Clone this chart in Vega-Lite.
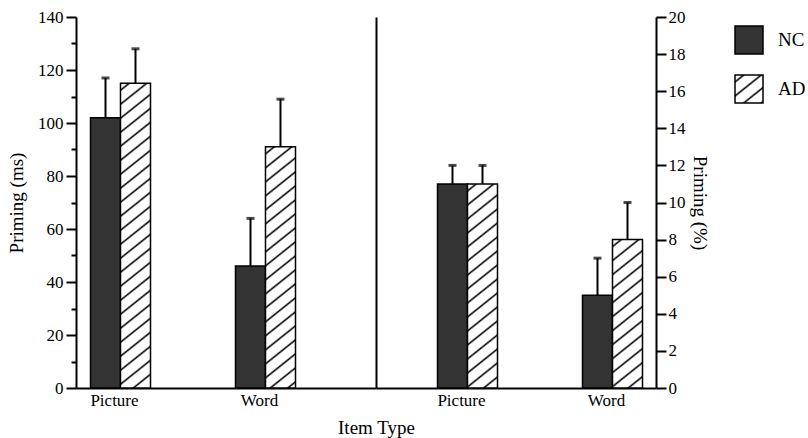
{
  "$schema": "https://vega.github.io/schema/vega-lite/v6.json",
  "padding": {"left": 7, "top": 8, "right": 2, "bottom": 4},
  "background": "white",
  "bounds": "flush",
  "spacing": 0,
  "params": [
    {"name": "hatch", "value": [
      {"offset": 0.0149, "color": "#fff"}, {"offset": 0.0208, "color": "#000"}, {"offset": 0.0268, "color": "#fff"},
      {"offset": 0.0565, "color": "#fff"}, {"offset": 0.0625, "color": "#000"}, {"offset": 0.0685, "color": "#fff"},
      {"offset": 0.0982, "color": "#fff"}, {"offset": 0.1042, "color": "#000"}, {"offset": 0.1101, "color": "#fff"},
      {"offset": 0.1399, "color": "#fff"}, {"offset": 0.1458, "color": "#000"}, {"offset": 0.1518, "color": "#fff"},
      {"offset": 0.1815, "color": "#fff"}, {"offset": 0.1875, "color": "#000"}, {"offset": 0.1935, "color": "#fff"},
      {"offset": 0.2232, "color": "#fff"}, {"offset": 0.2292, "color": "#000"}, {"offset": 0.2351, "color": "#fff"},
      {"offset": 0.2649, "color": "#fff"}, {"offset": 0.2708, "color": "#000"}, {"offset": 0.2768, "color": "#fff"},
      {"offset": 0.3065, "color": "#fff"}, {"offset": 0.3125, "color": "#000"}, {"offset": 0.3185, "color": "#fff"},
      {"offset": 0.3482, "color": "#fff"}, {"offset": 0.3542, "color": "#000"}, {"offset": 0.3601, "color": "#fff"},
      {"offset": 0.3899, "color": "#fff"}, {"offset": 0.3958, "color": "#000"}, {"offset": 0.4018, "color": "#fff"},
      {"offset": 0.4315, "color": "#fff"}, {"offset": 0.4375, "color": "#000"}, {"offset": 0.4435, "color": "#fff"},
      {"offset": 0.4732, "color": "#fff"}, {"offset": 0.4792, "color": "#000"}, {"offset": 0.4851, "color": "#fff"},
      {"offset": 0.5149, "color": "#fff"}, {"offset": 0.5208, "color": "#000"}, {"offset": 0.5268, "color": "#fff"},
      {"offset": 0.5565, "color": "#fff"}, {"offset": 0.5625, "color": "#000"}, {"offset": 0.5685, "color": "#fff"},
      {"offset": 0.5982, "color": "#fff"}, {"offset": 0.6042, "color": "#000"}, {"offset": 0.6101, "color": "#fff"},
      {"offset": 0.6399, "color": "#fff"}, {"offset": 0.6458, "color": "#000"}, {"offset": 0.6518, "color": "#fff"},
      {"offset": 0.6815, "color": "#fff"}, {"offset": 0.6875, "color": "#000"}, {"offset": 0.6935, "color": "#fff"},
      {"offset": 0.7232, "color": "#fff"}, {"offset": 0.7292, "color": "#000"}, {"offset": 0.7351, "color": "#fff"},
      {"offset": 0.7649, "color": "#fff"}, {"offset": 0.7708, "color": "#000"}, {"offset": 0.7768, "color": "#fff"},
      {"offset": 0.8065, "color": "#fff"}, {"offset": 0.8125, "color": "#000"}, {"offset": 0.8185, "color": "#fff"},
      {"offset": 0.8482, "color": "#fff"}, {"offset": 0.8542, "color": "#000"}, {"offset": 0.8601, "color": "#fff"},
      {"offset": 0.8899, "color": "#fff"}, {"offset": 0.8958, "color": "#000"}, {"offset": 0.9018, "color": "#fff"},
      {"offset": 0.9315, "color": "#fff"}, {"offset": 0.9375, "color": "#000"}, {"offset": 0.9435, "color": "#fff"},
      {"offset": 0.9732, "color": "#fff"}, {"offset": 0.9792, "color": "#000"}, {"offset": 0.9851, "color": "#fff"}
    ]}
  ],
  "data": {"values": [
    {"measure": "ms", "item": "Picture", "group": "NC", "mean": 102, "upper": 117},
    {"measure": "ms", "item": "Picture", "group": "AD", "mean": 115, "upper": 128},
    {"measure": "ms", "item": "Word", "group": "NC", "mean": 46, "upper": 64},
    {"measure": "ms", "item": "Word", "group": "AD", "mean": 91, "upper": 109},
    {"measure": "pct", "item": "Picture", "group": "NC", "mean": 11, "upper": 12},
    {"measure": "pct", "item": "Picture", "group": "AD", "mean": 11, "upper": 12},
    {"measure": "pct", "item": "Word", "group": "NC", "mean": 5, "upper": 7},
    {"measure": "pct", "item": "Word", "group": "AD", "mean": 8, "upper": 10}
  ]},
  "hconcat": [
    {
      "width": 300,
      "height": 371,
      "transform": [{"filter": "datum.measure === 'ms'"}],
      "encoding": {
        "x": {
          "field": "item", "type": "nominal", "sort": ["Picture", "Word"],
          "scale": {"paddingInner": 0.5862, "paddingOuter": 0.3276, "align": 0.1526},
          "axis": {"title": "Item Type", "titleX": 300, "titleAlign": "center", "titlePadding": 10, "labelAngle": 0, "ticks": false, "labelPadding": 4, "labelOffset": -6}
        },
        "xOffset": {"field": "group", "type": "nominal", "sort": ["NC", "AD"], "scale": {"paddingInner": 0, "paddingOuter": 0}}
      },
      "layer": [
        {
          "mark": {"type": "bar", "stroke": "black", "strokeWidth": 1.5},
          "encoding": {
            "y": {
              "field": "mean", "type": "quantitative",
              "scale": {"domain": [0, 140]},
              "axis": {
                "orient": "left", "title": "Priming (ms)",
                "values": [0, 10, 20, 30, 40, 50, 60, 70, 80, 90, 100, 110, 120, 130, 140],
                "labelExpr": "datum.value % 20 === 0 ? datum.label : ''",
                "labelOverlap": false,
                "tickSize": {"condition": {"test": "datum.value % 20 === 0", "value": 10}, "value": 5},
                "labelPadding": 3, "titlePadding": 11
              }
            },
            "fill": {
              "field": "group", "type": "nominal",
              "scale": {"domain": ["NC", "AD"], "range": ["#333333", {"expr": "{gradient: 'linear', x1: 0, y1: 0, x2: 5.8538, y2: 7.3172, stops: hatch}"}]},
              "legend": {"title": null},
              "condition": [
                {"test": "datum.group === 'AD' && datum.item === 'Picture'", "value": {"expr": "{gradient: 'linear', x1: 0, y1: 0, x2: 0.08629, y2: 1.09576, stops: hatch}"}},
                {"test": "datum.group === 'AD' && datum.item === 'Word'", "value": {"expr": "{gradient: 'linear', x1: 0, y1: 0, x2: 0.13731, y2: 1.37967, stops: hatch}"}}
              ]
            }
          }
        },
        {
          "mark": {"type": "rule", "color": "black", "strokeWidth": 2},
          "encoding": {
            "y": {"field": "mean", "type": "quantitative", "axis": {"orient": "right", "labels": false, "ticks": false, "title": null}},
            "y2": {"field": "upper"}
          }
        },
        {
          "mark": {"type": "tick", "color": "black", "thickness": 3, "size": 8},
          "encoding": {
            "y": {"field": "upper", "type": "quantitative", "axis": null}
          }
        }
      ],
      "resolve": {"axis": {"y": "independent"}}
    },
    {
      "width": 280,
      "height": 371,
      "transform": [{"filter": "datum.measure === 'pct'"}],
      "encoding": {
        "x": {
          "field": "item", "type": "nominal", "sort": ["Picture", "Word"],
          "scale": {"paddingInner": 0.5862, "paddingOuter": 0.2586, "align": 0.82},
          "axis": {"title": null, "labelAngle": 0, "ticks": false, "labelPadding": 4, "labelOffset": -6}
        },
        "xOffset": {"field": "group", "type": "nominal", "sort": ["NC", "AD"], "scale": {"paddingInner": 0, "paddingOuter": 0}}
      },
      "layer": [
        {
          "mark": {"type": "bar", "stroke": "black", "strokeWidth": 1.5},
          "encoding": {
            "y": {
              "field": "mean", "type": "quantitative",
              "scale": {"domain": [0, 20]},
              "axis": {
                "orient": "right", "title": "Priming (%)",
                "values": [0, 2, 4, 6, 8, 10, 12, 14, 16, 18, 20],
                "labelOverlap": false,
                "tickSize": 10, "labelPadding": 2, "titlePadding": 4
              }
            },
            "fill": {
              "field": "group", "type": "nominal",
              "scale": {"domain": ["NC", "AD"], "range": ["#333333", {"expr": "{gradient: 'linear', x1: 0, y1: 0, x2: 5.8538, y2: 7.3172, stops: hatch}"}]},
              "legend": {"title": null},
              "condition": [
                {"test": "datum.group === 'AD' && datum.item === 'Picture'", "value": {"expr": "{gradient: 'linear', x1: 0, y1: 0, x2: 0.19103, y2: 1.62418, stops: hatch}"}},
                {"test": "datum.group === 'AD' && datum.item === 'Word'", "value": {"expr": "{gradient: 'linear', x1: 0, y1: 0, x2: 0.35684, y2: 2.20648, stops: hatch}"}}
              ]
            }
          }
        },
        {
          "mark": {"type": "rule", "color": "black", "strokeWidth": 2},
          "encoding": {
            "y": {
              "field": "mean", "type": "quantitative",
              "axis": {
                "orient": "right", "title": "Priming (%)",
                "values": [0, 2, 4, 6, 8, 10, 12, 14, 16, 18, 20],
                "labelOverlap": false,
                "tickSize": 10, "labelPadding": 2, "titlePadding": 4
              }
            },
            "y2": {"field": "upper"}
          }
        },
        {
          "mark": {"type": "tick", "color": "black", "thickness": 3, "size": 8},
          "encoding": {
            "y": {
              "field": "upper", "type": "quantitative",
              "axis": {
                "orient": "right", "title": "Priming (%)",
                "values": [0, 2, 4, 6, 8, 10, 12, 14, 16, 18, 20],
                "labelOverlap": false,
                "tickSize": 10, "labelPadding": 2, "titlePadding": 4
              }
            }
          }
        }
      ]
    }
  ],
  "config": {
    "font": "Liberation Serif",
    "view": {"stroke": null},
    "axis": {
      "grid": false,
      "domainColor": "black", "domainWidth": 2,
      "tickColor": "black", "tickWidth": 2,
      "labelColor": "black", "labelFont": "Liberation Serif", "labelFontSize": 17,
      "titleColor": "black", "titleFont": "Liberation Serif", "titleFontSize": 19, "titleFontWeight": "normal"
    },
    "legend": {
      "symbolType": "square", "symbolSize": 784, "symbolStrokeColor": "black", "symbolStrokeWidth": 1.5,
      "symbolOpacity": 1,
      "labelFont": "Liberation Serif", "labelFontSize": 19, "labelColor": "black",
      "labelOffset": 14, "rowPadding": 15, "offset": 18, "padding": 8
    }
  }
}
